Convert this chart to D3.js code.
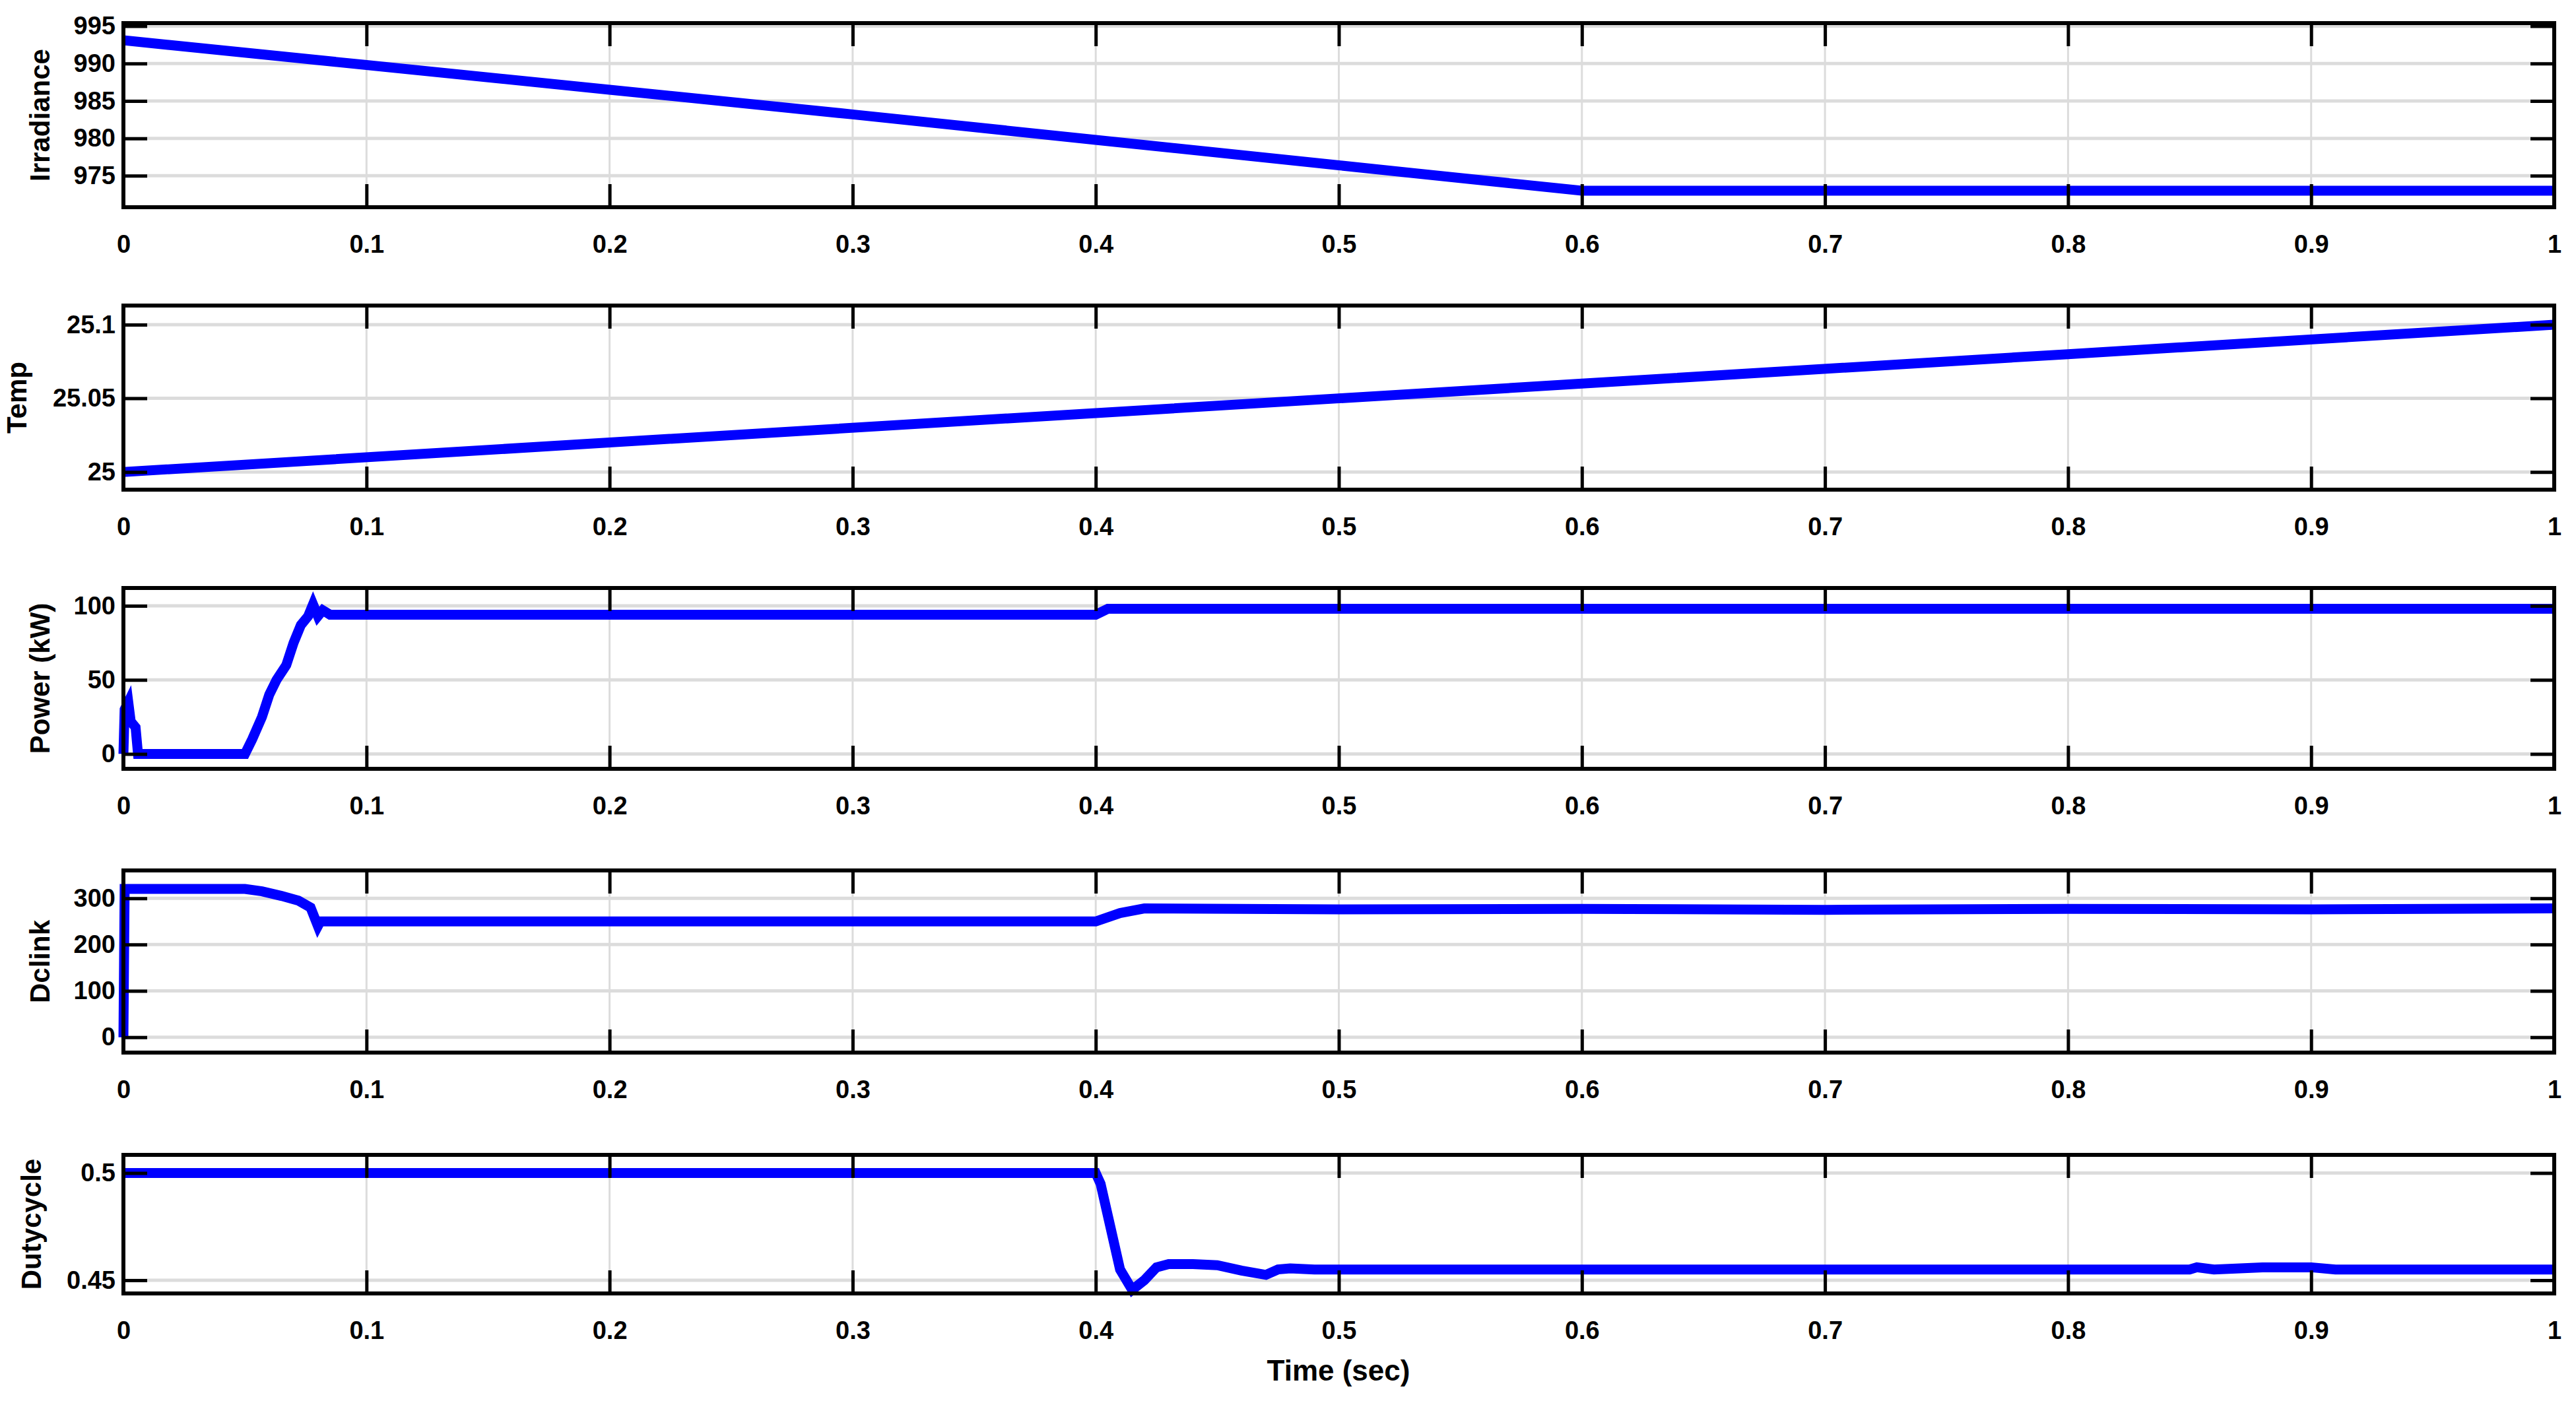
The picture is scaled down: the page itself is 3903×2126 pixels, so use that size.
<!DOCTYPE html>
<html><head><meta charset="utf-8">
<script src="https://cdn.jsdelivr.net/npm/d3@7"></script>
<style>body{margin:0;background:#fff}text{font-family:"Liberation Sans",Arial,sans-serif;font-weight:bold}</style>
</head><body><svg id="fig" width="3903" height="2126"></svg>
<script>
// time axis ticks
var timeTicks = [0,0.1,0.2,0.3,0.4,0.5,0.6,0.7,0.8,0.9,1];

// series as [t, value]
var irradiance = [[0,993.1],[0.1,989.8],[0.2,986.5],[0.3,983.2],[0.4,979.8],[0.5,976.4],[0.6,973.0],[0.7,973.0],[1,973.0]];
var temp = [[0,25.0],[0.2,25.02],[0.4,25.04],[0.5,25.05],[0.6,25.06],[0.8,25.08],[1,25.1]];
var power = [[0,0],[0.0005,30],[0.002,35],[0.003,22],[0.005,18],[0.006,0],[0.05,0],[0.053,10],[0.057,25],[0.06,40],[0.063,50],[0.067,60],[0.07,75],[0.073,87],[0.076,93],[0.078,101],[0.08,93],[0.082,97],[0.085,94],[0.4,94],[0.405,98],[1,98]];
var dclink = [[0,0],[0.0005,320],[0.05,320],[0.057,315],[0.065,305],[0.072,295],[0.077,280],[0.08,240],[0.081,250],[0.4,250],[0.41,268],[0.42,278],[0.5,276],[0.6,277],[0.7,275],[0.8,277],[0.9,276],[1,278]];
var duty = [[0,0.5],[0.4,0.5],[0.402,0.495],[0.405,0.48],[0.41,0.455],[0.415,0.4455],[0.42,0.45],[0.425,0.456],[0.43,0.4575],[0.44,0.4575],[0.45,0.457],[0.46,0.4545],[0.47,0.4525],[0.475,0.455],[0.48,0.4555],[0.49,0.455],[0.85,0.455],[0.853,0.456],[0.86,0.455],[0.88,0.456],[0.9,0.456],[0.91,0.455],[1,0.455]];

var panels = [
  {label:"Irradiance", lx:75, data:irradiance, dom:[970.8,995.4], ticks:[975,980,985,990,995], fmt:d3.format("d"), top:35, bot:314},
  {label:"Temp", lx:40, data:temp, dom:[24.988,25.113], ticks:[25,25.05,25.1], fmt:function(d){return d3.format("")(+d.toFixed(2));}, top:463, bot:742},
  {label:"Power (kW)", lx:75, data:power, dom:[-10,112], ticks:[0,50,100], fmt:d3.format("d"), top:891, bot:1165},
  {label:"Dclink", lx:75, data:dclink, dom:[-33,360], ticks:[0,100,200,300], fmt:d3.format("d"), top:1319, bot:1595},
  {label:"Dutycycle", lx:62, data:duty, dom:[0.4438,0.5085], ticks:[0.45,0.5], fmt:function(d){return d3.format("")(+d.toFixed(2));}, top:1750, bot:1960}
];

var svg = d3.select("#fig");
var x = d3.scaleLinear().domain([0,1]).range([187,3870]);

panels.forEach(function(p){
  var y = d3.scaleLinear().domain(p.dom).range([p.bot,p.top]);
  var g = svg.append("g");
  // grid
  g.selectAll(".gx").data(timeTicks).enter().append("line")
    .attr("x1",function(d){return x(d);}).attr("x2",function(d){return x(d);})
    .attr("y1",p.top).attr("y2",p.bot).attr("stroke","#dcdcdc").attr("stroke-width",3);
  g.selectAll(".gy").data(p.ticks).enter().append("line")
    .attr("x1",x(0)).attr("x2",x(1))
    .attr("y1",function(d){return y(d);}).attr("y2",function(d){return y(d);})
    .attr("stroke","#dcdcdc").attr("stroke-width",5);
  // line
  g.append("path").datum(p.data)
    .attr("d",d3.line().x(function(d){return x(d[0]);}).y(function(d){return y(d[1]);}))
    .attr("fill","none").attr("stroke","#0000ff").attr("stroke-width",15);
  // axes
  var ax = d3.axisBottom(x).tickValues(timeTicks).tickFormat(d3.format("")).tickSize(-35).tickPadding(42);
  g.append("g").attr("transform","translate(0,"+p.bot+")").call(ax);
  g.append("g").attr("transform","translate(0,"+p.top+")").call(d3.axisTop(x).tickValues(timeTicks).tickFormat("").tickSize(-35));
  g.append("g").attr("transform","translate("+x(0)+",0)")
    .call(d3.axisLeft(y).tickValues(p.ticks).tickFormat(p.fmt).tickSize(-36).tickPadding(12));
  g.append("g").attr("transform","translate("+x(1)+",0)")
    .call(d3.axisRight(y).tickValues(p.ticks).tickFormat("").tickSize(-36));
  g.selectAll(".domain").remove();
  g.selectAll(".tick line").attr("stroke","#000").attr("stroke-width",5);
  g.selectAll(".tick text").attr("font-size",38).attr("fill","#000");
  g.append("rect").attr("x",x(0)).attr("y",p.top).attr("width",x(1)-x(0)).attr("height",p.bot-p.top)
    .attr("fill","none").attr("stroke","#000").attr("stroke-width",6);
  g.append("text").attr("transform","translate("+p.lx+","+((p.top+p.bot)/2)+") rotate(-90)")
    .attr("text-anchor","middle").attr("font-size",42).text(p.label);
});

svg.append("text").attr("x",2028).attr("y",2092).attr("text-anchor","middle").attr("font-size",44).text("Time (sec)");
</script></body></html>
